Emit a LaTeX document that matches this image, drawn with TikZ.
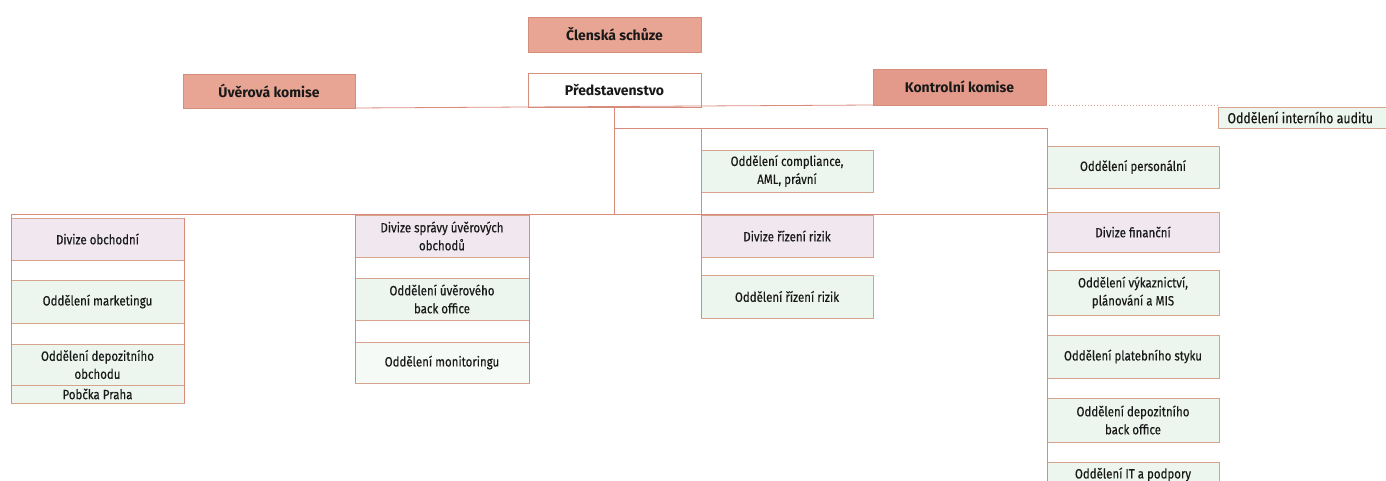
\documentclass[tikz,border=0pt]{standalone}
\usepackage{fontspec}
\setmainfont{Fira Sans}
\newfontfamily\condfont{Fira Sans}[FakeStretch=0.85,FakeBold=0.35]
\definecolor{salmon}{HTML}{E8A594}
\definecolor{salmonD}{HTML}{E39A8A}
\definecolor{salmonB}{HTML}{D68E7C}
\definecolor{linec}{HTML}{D98A7B}
\definecolor{lav}{HTML}{F0E7EF}
\definecolor{mint}{HTML}{EDF6EE}
\definecolor{boxb}{HTML}{D6A48C}
\begin{document}
\begin{tikzpicture}[x=1pt,y=-1pt,
  base/.style={anchor=north west,inner sep=0pt,outer sep=0pt,align=center,
    font=\condfont\fontsize{13.5}{18}\selectfont,text=black!90},
  head/.style={base,fill=salmon,draw=salmonB,line width=0.8pt,font=\fontsize{14}{16}\selectfont\bfseries},
  pres/.style={base,fill=white,draw=salmonB,line width=0.8pt,font=\fontsize{14}{16}\selectfont\bfseries},
  divbox/.style={base,fill=lav,draw=boxb,line width=0.9pt},
  oddbox/.style={base,fill=mint,draw=boxb,line width=0.9pt},
  conn/.style={draw=linec,line width=0.8pt},
  dotconn/.style={draw=linec!80,line width=0.7pt,dash pattern=on 1.2pt off 1.8pt}]
\clip (0,0) rectangle (1386,481);
\fill[white] (0,0) rectangle (1386,481);
% top
\node[head,minimum width=173pt,minimum height=35pt] (clen) at (528,17) {Členská schůze};
\node[pres,minimum width=173pt,minimum height=34pt] (pred) at (528,73) {Představenstvo};
\node[head,minimum width=172pt,minimum height=34pt] (uver) at (183,74) {Úvěrová komise};
\node[head,fill=salmonD,minimum width=173pt,minimum height=36pt] (kontrol) at (873,69) {Kontrolní komise};
\node[oddbox,minimum width=172pt,minimum height=21pt,text width=165pt,align=flush left,font=\condfont\fontsize{14.5}{18}\selectfont] (audit) at (1218,107) {\hspace*{6pt}Oddělení interního auditu};
% bus coordinates
\coordinate (busY) at (0,214);
\coordinate (b2Y) at (0,128);
% column 1
\node[divbox,minimum width=173pt,minimum height=42pt] (obch) at (11,218) {Divize obchodní};
\node[oddbox,minimum width=173pt,minimum height=43pt] (mark) at (11,280) {Oddělení marketingu};
\node[oddbox,minimum width=173pt,minimum height=41pt] (depo) at (11,344) {Oddělení depozitního\\obchodu};
\node[oddbox,minimum width=173pt,minimum height=18pt] (praha) at (11,385) {Pobčka Praha};
% column 2
\node[divbox,minimum width=174pt,minimum height=42pt] (sprav) at (355,215) {Divize správy úvěrových\\obchodů};
\node[oddbox,minimum width=174pt,minimum height=42pt] (backo) at (355,278) {Oddělení úvěrového\\back office};
\node[oddbox,fill=mint!50,minimum width=174pt,minimum height=41pt] (monit) at (355,342) {Oddělení monitoringu};
% column 3
\node[oddbox,minimum width=172pt,minimum height=42pt] (compl) at (701,150) {Oddělení compliance,\\AML, právní};
\node[divbox,minimum width=172pt,minimum height=42pt] (rizD) at (701,215) {Divize řízení rizik};
\node[oddbox,minimum width=172pt,minimum height=43pt] (rizO) at (701,275) {Oddělení řízení rizik};
% column 4
\node[oddbox,minimum width=172pt,minimum height=42pt] (pers) at (1047,146) {Oddělení personální};
\node[divbox,minimum width=172pt,minimum height=40pt] (fin) at (1047,212) {Divize finanční};
\node[oddbox,minimum width=172pt,minimum height=45pt] (vyk) at (1047,270) {Oddělení výkaznictví,\\plánování a MIS};
\node[oddbox,minimum width=172pt,minimum height=43pt] (plat) at (1047,335) {Oddělení platebního styku};
\node[oddbox,minimum width=172pt,minimum height=44pt] (depbo) at (1047,398) {Oddělení depozitního\\back office};
\node[oddbox,minimum width=172pt,minimum height=25pt] (it) at (1047,462) {Oddělení IT a podpory};
% connectors
\draw[conn] (uver.south east) -- (kontrol.south west);
\draw[conn] (pred.south) -- (pred.south |- busY);
\draw[conn] (obch.north west |- busY) -- (fin.north west |- busY);
\draw[conn] (pred.south |- b2Y) -- (pers.north west |- b2Y);
\draw[conn] (compl.north west |- b2Y) -- (compl.north west |- busY);
\draw[conn] (pers.north west |- b2Y) -- (pers.north west |- busY);
\draw[conn] (obch.north west |- busY) -- (praha.south west);
\draw[conn] (obch.north east) -- (praha.south east);
\draw[conn] (sprav.north west |- busY) -- (monit.south west);
\draw[conn] (sprav.north east) -- (monit.south east);
\draw[conn] (rizD.north west |- busY) -- (rizO.south west);
\draw[conn] (fin.north west |- busY) -- (it.south west);
\draw[dotconn] (kontrol.south east) -- (kontrol.south east -| audit.north west);
\end{tikzpicture}
\end{document}
